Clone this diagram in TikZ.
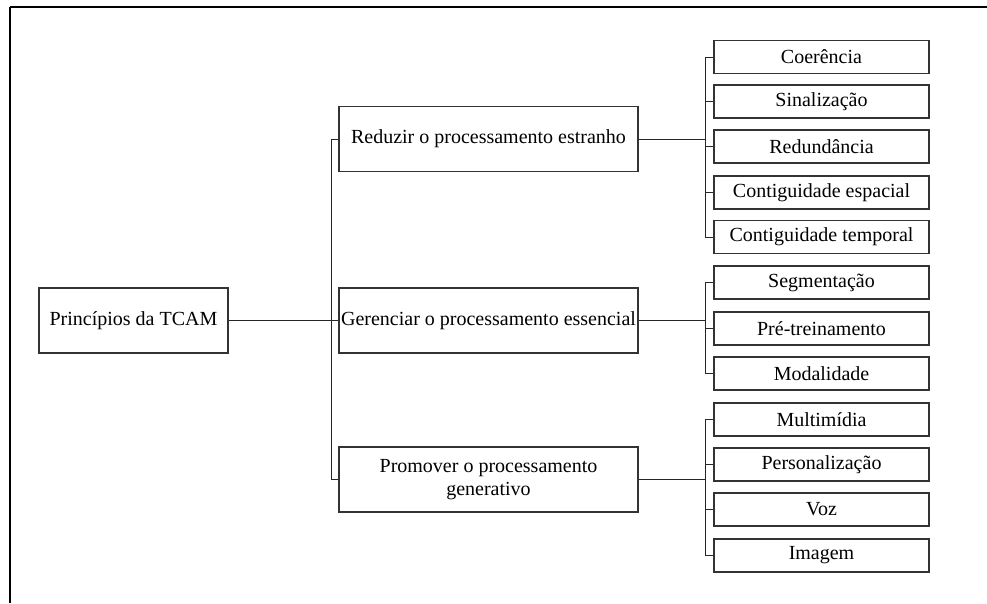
\documentclass[tikz,border=0pt]{standalone}
\usepackage{fontspec}
\setmainfont{Liberation Serif}
\usepackage{tikz}
\usetikzlibrary{calc, positioning}

\begin{document}
\begin{tikzpicture}[x=0.75pt, y=-0.75pt, font=\fontsize{15}{17}\selectfont]
		\tikzstyle{root} = [draw=black!80, line width=0.8pt, rectangle, minimum width=141.75pt, minimum height=48.75pt, inner sep=0pt]
		\tikzstyle{middle} = [draw=black!80, line width=0.8pt, rectangle, minimum width=224.25pt, minimum height=48.75pt, inner sep=0pt, align=center]
		\tikzstyle{leaf} = [draw=black!80, line width=0.8pt, rectangle, minimum width=161.25pt, minimum height=24.75pt, inner sep=0pt]
		\tikzstyle{link} = [black!85, line width=0.6pt]
		
		\useasboundingbox (0, 0) rectangle (987, 603);
		\draw [line width=1.1pt] (10, 7) -- (987, 7);
		\draw [line width=1.5pt] (10, 7) -- (10, 603);
		
		\node[root]		at (133.5, 320.5)	(p0)	{Princípios da TCAM};
		
		\node[middle]	at (488.5, 139)		(r1)	{Reduzir o processamento estranho};
		\node[middle]	at (488.5, 320.5)	(r2)	{Gerenciar o processamento essencial};
		\node[middle]	at (488.5, 479.5)	(r3)	{Promover o processamento\\generativo};
		
		\node[leaf]		at (821.5, 57)		(c1)	{Coerência};
		\node[leaf]		at (821.5, 101.5)	(c2)	{Sinalização};
		\node[leaf]		at (821.5, 146.5)	(c3)	{Redundância};
		\node[leaf]		at (821.5, 192.5)	(c4)	{Contiguidade espacial};
		\node[leaf]		at (821.5, 237)		(c5)	{Contiguidade temporal};
		
		\node[leaf]		at (821.5, 282.5)	(g1)	{Segmentação};
		\node[leaf]		at (821.5, 328.5)	(g2)	{Pré-treinamento};
		\node[leaf]		at (821.5, 373.5)	(g3)	{Modalidade};
		
		\node[leaf]		at (821.5, 419.5)	(m1)	{Multimídia};
		\node[leaf]		at (821.5, 464.5)	(m2)	{Personalização};
		\node[leaf]		at (821.5, 509.5)	(m3)	{Voz};
		\node[leaf]		at (821.5, 555.5)	(m4)	{Imagem};
		
		\coordinate (t0) at (331, 320.5);
		\coordinate (t1) at (705, 139);
		\coordinate (t2) at (705, 320.5);
		\coordinate (t3) at (705, 479.5);
		
		\draw [link] (p0) -- (r2);
		\draw [link] (t0) |- (r1);
		\draw [link] (t0) |- (r3);
		
		\draw [link] (r1) -- (t1);
		\draw [link] (t1) |- (c1);
		\draw [link] (t1) |- (c2);
		\draw [link] (t1) |- (c3);
		\draw [link] (t1) |- (c4);
		\draw [link] (t1) |- (c5);
		
		\draw [link, line width=1pt] (r2) -- (t2);
		\draw [link] (t2) |- (g1);
		\draw [link] (t2) |- (g2);
		\draw [link] (t2) |- (g3);
		
		\draw [link] (r3) -- (t3);
		\draw [link] (t3) |- (m1);
		\draw [link] (t3) |- (m2);
		\draw [link] (t3) |- (m3);
		\draw [link] (t3) |- (m4);
	\end{tikzpicture}
\end{document}
